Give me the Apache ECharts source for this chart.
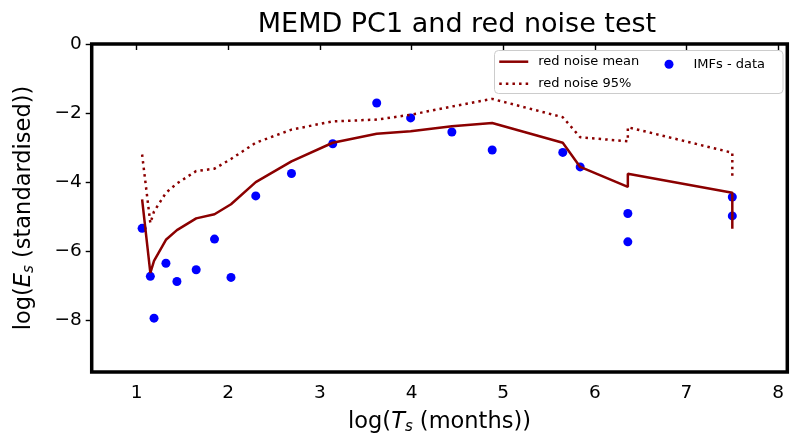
<!DOCTYPE html>
<html>
<head>
<meta charset="utf-8">
<script src="https://cdn.jsdelivr.net/npm/echarts@6/dist/echarts.min.js"></script>
<style>html,body{margin:0;padding:0;background:#fff}#c{width:790px;height:440px}</style>
</head>
<body>
<div id="c"></div>
<script>
// log period of each IMF (x)
const logT = [1.06, 1.15, 1.19, 1.32, 1.44, 1.65, 1.85, 2.03, 2.30, 2.69, 3.14, 3.62, 3.99, 4.44, 4.88, 5.65, 5.84, 6.36, 6.36, 7.50, 7.50];
// IMFs - data
const imfE = [-5.34, -6.73, -7.94, -6.35, -6.88, -6.54, -5.65, -6.76, -4.40, -3.75, -2.89, -1.71, -2.14, -2.55, -3.07, -3.14, -3.56, -4.91, -5.73, -4.43, -4.98];
// red noise mean
const noiseMean = [-4.50, -6.63, -6.28, -5.67, -5.39, -5.05, -4.93, -4.64, -4.00, -3.40, -2.86, -2.60, -2.53, -2.38, -2.29, -2.86, -3.56, -4.14, -3.76, -4.31, -5.35];
// red noise 95%
const noise95 = [-3.20, -5.19, -4.85, -4.31, -4.04, -3.68, -3.61, -3.33, -2.86, -2.48, -2.24, -2.19, -2.05, -1.81, -1.59, -2.12, -2.70, -2.82, -2.41, -3.15, -3.83];
// tick labels
const xTicks = [1, 2, 3, 4, 5, 6, 7, 8];
const yTicks = [0, -2, -4, -6, -8];

const zip = (xs, ys) => xs.map((x, i) => [x, ys[i]]);
const FONT = 'DejaVu Sans';
const nameRich = {
  n: {fontSize: 22.5, fontFamily: FONT, color: '#000', lineHeight: 26},
  i: {fontSize: 22.5, fontFamily: FONT, fontStyle: 'italic', color: '#000', lineHeight: 26},
  s: {fontSize: 15, fontFamily: FONT, fontStyle: 'italic', color: '#000', lineHeight: 8, verticalAlign: 'bottom'}
};
const minusFmt = v => (v < 0 ? '\u2212' + Math.abs(v) : String(v));

const chart = echarts.init(document.getElementById('c'), null, {renderer: 'canvas'});
chart.setOption({
  animation: false,
  backgroundColor: '#fff',
  textStyle: {fontFamily: FONT},
  title: {
    text: 'MEMD PC1 and red noise test',
    left: 457, top: 11, padding: 0, textAlign: 'center',
    textStyle: {fontSize: 27, fontWeight: 'normal', color: '#000', fontFamily: FONT}
  },
  grid: {
    left: 91.7, top: 44, right: 2.7, bottom: 66.7,
    show: true, borderColor: '#000', borderWidth: 3.5, backgroundColor: 'transparent'
  },
  graphic: [{
    type: 'rect', z: 5,
    shape: {x: 494.5, y: 50.5, width: 288.5, height: 43, r: 4},
    style: {fill: 'rgba(255,255,255,0.8)', stroke: '#cccccc', lineWidth: 1}
  }],
  legend: [{
    data: ['red noise mean', 'red noise 95%'],
    orient: 'vertical', left: 498, top: 54.7, padding: 0,
    itemWidth: 29, itemHeight: 14, itemGap: 8, z: 6,
    itemStyle: {opacity: 0},
    lineStyle: {width: 2.5},
    textStyle: {fontSize: 13, color: '#000', lineHeight: 14, padding: [0, 0, 0, 5]}
  }, {
    data: ['IMFs - data'],
    orient: 'vertical', left: 664.5, top: 57.2, padding: 0,
    itemWidth: 29, itemHeight: 9, z: 6,
    textStyle: {fontSize: 13, color: '#000', lineHeight: 14, padding: [0, 0, 0, 5]}
  }],
  xAxis: {
    type: 'value', min: 0.51, max: 8.1,
    name: '{n|log(}{i|T}{s|s}{n| (months))}',
    nameLocation: 'middle', nameGap: 37,
    nameTextStyle: {rich: nameRich},
    splitLine: {show: false},
    axisLine: {show: false},
    axisTick: {show: true, length: 6, lineStyle: {color: '#000', width: 1.4}, customValues: xTicks},
    axisLabel: {fontSize: 18.5, color: '#000', margin: 12, customValues: xTicks, formatter: minusFmt}
  },
  yAxis: {
    type: 'value', min: -9.5, max: 0,
    name: '{n|log(}{i|E}{s|s}{n| (standardised))}',
    nameLocation: 'middle', nameGap: 55, nameRotate: 90,
    nameTextStyle: {rich: nameRich},
    splitLine: {show: false},
    axisLine: {show: false},
    axisTick: {show: true, length: 6, lineStyle: {color: '#000', width: 1.4}, customValues: yTicks},
    axisLabel: {fontSize: 18.5, color: '#000', margin: 10, customValues: yTicks, formatter: minusFmt}
  },
  series: [{
    name: 'IMFs - data', type: 'scatter', z: 2,
    data: zip(logT, imfE), symbolSize: 9,
    itemStyle: {color: '#0000ff', opacity: 1}
  }, {
    name: 'red noise mean', type: 'line', z: 3,
    data: zip(logT, noiseMean), symbol: 'none',
    lineStyle: {color: '#8b0000', width: 2.5},
    itemStyle: {color: '#8b0000'}
  }, {
    name: 'red noise 95%', type: 'line', z: 3,
    data: zip(logT, noise95), symbol: 'none',
    lineStyle: {color: '#8b0000', width: 2.5, type: [2.5, 4.1], cap: 'butt'},
    itemStyle: {color: '#8b0000'}
  }]
});
</script>
</body>
</html>
